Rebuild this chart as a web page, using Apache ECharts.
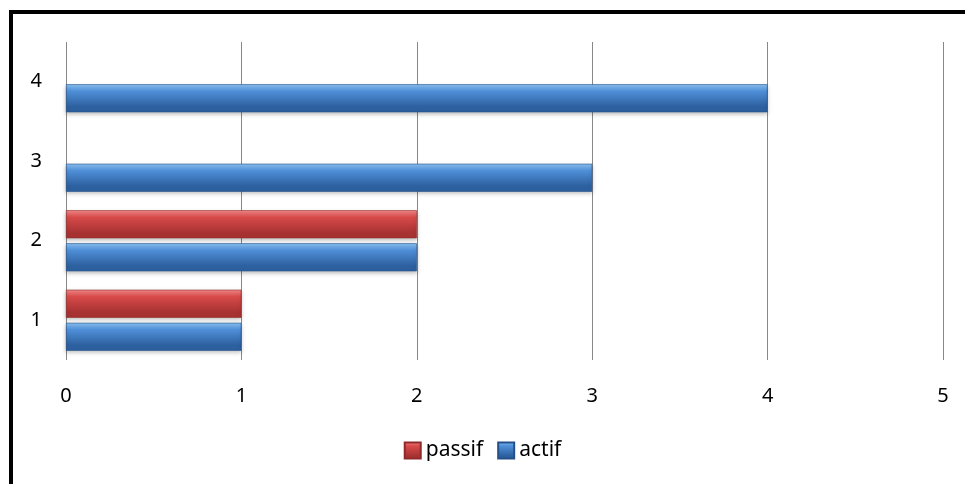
<!DOCTYPE html>
<html>
<head>
<meta charset="utf-8">
<script src="https://cdn.jsdelivr.net/npm/echarts@6/dist/echarts.min.js"></script>
<style>
  html, body { margin: 0; padding: 0; background: #fff; }
  #chart { width: 965px; height: 484px; }
</style>
</head>
<body>
<div id="chart"></div>
<script>
// Categories and series values
const categories = ['1', '2', '3', '4'];
const passifValues = [1, 2, 0, 0];
const actifValues = [1, 2, 3, 4];
const seriesNames = ['passif', 'actif'];

const FONT = '"Noto Sans", "Open Sans", sans-serif';

// zero-length bars are left out so no outline is drawn for them
const asBars = vals => vals.map(v => (v === 0 ? '-' : v));

function vGrad(top, mid, bottom) {
  return new echarts.graphic.LinearGradient(0, 0, 0, 1, [
    { offset: 0, color: top },
    { offset: 0.25, color: mid },
    { offset: 0.8, color: bottom },
    { offset: 1, color: bottom }
  ]);
}

const redFill = vGrad('#f58a8a', '#d84a4a', '#a83232');
const blueFill = vGrad('#8cc4f5', '#4f8fd8', '#2d609f');

const chart = echarts.init(document.getElementById('chart'), null, { renderer: 'canvas' });

chart.setOption({
  animation: false,
  backgroundColor: '#ffffff',
  graphic: [{
    type: 'rect',
    left: 9, top: 10,
    shape: { width: 1000, height: 520 },
    style: { fill: 'transparent', stroke: '#000', lineWidth: 4 },
    silent: true
  }],
  grid: { left: 66, right: 22, top: 42, bottom: 124 },
  legend: {
    data: seriesNames,
    bottom: 18,
    left: 'center',
    itemWidth: 16,
    itemHeight: 16,
    itemGap: 14,
    icon: 'rect',
    textStyle: { fontFamily: FONT, fontSize: 21, color: '#000' }
  },
  xAxis: {
    type: 'value',
    min: 0, max: 5, interval: 1,
    axisLine: { show: false },
    axisTick: { show: false },
    axisLabel: { fontFamily: FONT, fontSize: 20, color: '#000', margin: 26 },
    splitLine: { show: true, lineStyle: { color: '#888888', width: 1 } }
  },
  yAxis: {
    type: 'category',
    data: categories,
    axisLine: { show: false },
    axisTick: { show: false },
    axisLabel: { fontFamily: FONT, fontSize: 20, color: '#000', margin: 24 }
  },
  series: [
    {
      name: 'passif', type: 'bar', data: asBars(passifValues),
      barWidth: 28, barGap: '18%',
      itemStyle: {
        color: redFill, borderColor: '#8e2a2a', borderWidth: 0.6,
        shadowColor: 'rgba(0,0,0,0.25)', shadowBlur: 4, shadowOffsetY: 2
      }
    },
    {
      name: 'actif', type: 'bar', data: asBars(actifValues),
      barWidth: 28, barGap: '18%',
      itemStyle: {
        color: blueFill, borderColor: '#24508a', borderWidth: 0.6,
        shadowColor: 'rgba(0,0,0,0.25)', shadowBlur: 4, shadowOffsetY: 2
      }
    }
  ]
});
</script>
</body>
</html>
